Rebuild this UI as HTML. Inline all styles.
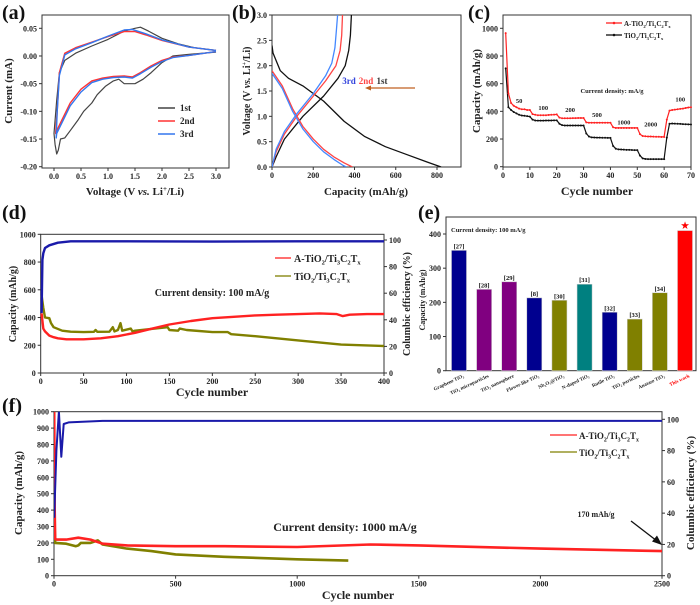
<!DOCTYPE html>
<html><head><meta charset="utf-8"><style>
html,body{margin:0;padding:0;background:#fff;}
svg{display:block;font-family:"Liberation Serif",serif;font-weight:bold;}
</style></head><body>
<svg id="fig" width="700" height="605" viewBox="0 0 700 605" xmlns="http://www.w3.org/2000/svg"></svg>
<script>
// ---- Panel a: CV curves [V, I]
const cvCycle1 = [[3.0,0.007],[2.5,0.003],[2.2,0.0],[2.0,-0.012],[1.8,-0.03],[1.65,-0.042],[1.5,-0.05],[1.3,-0.05],[1.2,-0.042],[1.1,-0.045],[0.95,-0.055],[0.8,-0.07],[0.7,-0.085],[0.55,-0.1],[0.45,-0.115],[0.3,-0.135],[0.2,-0.148],[0.12,-0.15],[0.08,-0.17],[0.05,-0.177],[0.02,-0.16],[0.0,-0.14],[0.05,-0.08],[0.1,-0.03],[0.2,-0.008],[0.4,0.005],[0.7,0.018],[1.0,0.03],[1.3,0.045],[1.5,0.05],[1.6,0.052],[1.75,0.045],[2.0,0.032],[2.3,0.022],[2.6,0.015],[3.0,0.01]];
const cvCycle2 = [[3.0,0.008],[2.5,0.001],[2.2,-0.002],[2.0,-0.008],[1.8,-0.018],[1.6,-0.03],[1.45,-0.038],[1.3,-0.036],[1.1,-0.037],[0.9,-0.04],[0.7,-0.045],[0.5,-0.06],[0.3,-0.085],[0.15,-0.115],[0.05,-0.135],[0.03,-0.14],[0.06,-0.1],[0.1,-0.03],[0.2,0.005],[0.4,0.015],[0.7,0.025],[1.0,0.035],[1.3,0.044],[1.5,0.044],[1.7,0.038],[2.0,0.028],[2.5,0.016],[3.0,0.01]];
const cvCycle3 = [[3.0,0.008],[2.5,0.001],[2.2,-0.003],[2.0,-0.01],[1.8,-0.02],[1.6,-0.032],[1.45,-0.04],[1.3,-0.038],[1.1,-0.039],[0.9,-0.042],[0.7,-0.048],[0.5,-0.065],[0.3,-0.09],[0.15,-0.12],[0.05,-0.14],[0.04,-0.148],[0.06,-0.1],[0.1,-0.035],[0.2,0.002],[0.4,0.013],[0.7,0.024],[1.0,0.036],[1.3,0.047],[1.45,0.048],[1.7,0.04],[2.0,0.029],[2.5,0.016],[3.0,0.01]];
// ---- Panel b: [capacity, voltage]
const disch1 = [[0,2.4],[5,2.25],[40,1.9],[80,1.75],[150,1.6],[250,1.3],[350,0.9],[450,0.6],[550,0.4],[650,0.25],[750,0.1],[820,0]];
const disch2 = [[0,1.9],[50,1.6],[100,1.15],[150,0.8],[200,0.55],[250,0.35],[300,0.2],[350,0.08],[390,0]];
const disch3 = [[0,1.85],[50,1.55],[100,1.1],[150,0.75],[200,0.5],[250,0.3],[300,0.15],[345,0.03],[360,0]];
const charge1 = [[0,0],[20,0.2],[60,0.55],[150,1.0],[250,1.4],[320,1.75],[355,2.0],[372,2.3],[380,2.6],[385,3.0]];
const charge2 = [[0,0],[20,0.3],[60,0.65],[120,1.0],[200,1.4],[260,1.7],[310,2.0],[330,2.3],[338,2.6],[342,3.0]];
const charge3 = [[0,0],[20,0.35],[60,0.7],[120,1.05],[200,1.45],[260,1.8],[290,2.05],[305,2.35],[312,2.7],[318,3.0]];
// ---- Panel c: rate
const rateCycles = [1,2,3,4,5,6,7,8,9,10,11,12,13,14,15,16,17,18,19,20,21,22,23,24,25,26,27,28,29,30,31,32,33,34,35,36,37,38,39,40,41,42,43,44,45,46,47,48,49,50,51,52,53,54,55,56,57,58,59,60,61,62,63,64,65,66,67,68,69,70];
const rateA = [965,530,460,440,430,420,415,415,410,410,380,375,372,372,372,372,374,375,376,378,355,350,350,350,350,351,351,352,352,352,320,318,318,318,318,318,318,318,318,318,285,280,280,280,280,280,280,280,280,280,235,222,220,218,218,217,216,216,215,215,340,405,410,412,415,418,420,424,428,430];
const rateB = [710,430,410,395,385,375,370,368,365,362,340,334,333,333,333,334,334,334,335,335,310,300,298,298,298,298,298,298,298,298,240,218,212,211,210,210,209,209,208,208,150,130,125,124,123,122,122,121,120,120,80,60,56,55,55,55,55,55,55,55,210,310,312,311,310,309,308,307,306,305];
const rateLabels = ["50","100","200","500","1000","2000","100"];
const rateLabelCycle = [6,15,25,35,45,55,66];
const rateLabelVal = [460,410,395,360,305,290,470];
// ---- Panel d: long cycling 100 mA/g
const dCyc = [1,3,5,10,15,20,30,50,70,90,110,130,150,175,200,225,250,275,300,325,345,352,360,380,400];
const dCapA = [430,320,300,270,258,250,243,243,250,265,290,320,350,375,395,405,415,420,425,430,425,410,420,425,425];
const dCycB = [1,3,5,10,12,15,25,35,50,62,64,66,80,84,86,90,93,95,105,107,110,148,150,160,162,170,200,218,222,250,300,350,400];
const dCapB = [560,470,400,395,360,330,305,298,295,297,310,297,298,330,300,310,360,305,320,300,305,330,310,305,320,310,295,295,280,265,235,205,195];
const dCycCE = [1,2,3,5,10,20,35,100,200,300,400];
const dCE = [45,85,90,94,96,98,99,99,98.8,99,99];
// ---- Panel e: comparison bars
const eNames = ["Graphene TiO₂","TiO₂ microparticles","TiO₂ nanosphere","Flower-like TiO₂","Nb₂O₅@TiO₂","N-doped TiO₂","Rutile TiO₂","TiO₂ particles","Anatase TiO₂","This work"];
const eRefs = ["[27]","[28]","[29]","[8]","[30]","[31]","[32]","[33]","[34]","★"];
const eVals = [352,238,260,213,206,253,171,151,228,410];
const eColors = ["#00008f","#800080","#800080","#00008f","#808000","#008080","#00008f","#808000","#808000","#ff0000"];
// ---- Panel f: long cycling 1000 mA/g
const fCycA = [1,3,5,10,50,100,150,200,300,500,700,1000,1300,1500,2000,2500];
const fCapA = [1000,400,225,220,220,232,220,195,185,180,180,175,190,185,165,150];
const fCycB = [1,5,50,90,100,110,150,180,200,300,400,500,700,1000,1210];
const fCapB = [360,200,195,180,185,200,200,215,190,165,150,130,115,100,92];
const fCycCE = [1,10,20,30,40,60,200,1000,2000,2500];
const fCE = [37,80,105,76,97,98,99,99,99,99];

const NS="http://www.w3.org/2000/svg";
const svg=document.getElementById('fig');
function el(tag,attrs,parent,text){const e=document.createElementNS(NS,tag);for(const k in attrs)e.setAttribute(k,attrs[k]);if(text!==undefined)e.textContent=text;(parent||svg).appendChild(e);return e;}
function lin(d0,d1,r0,r1){return v=>r0+(v-d0)*(r1-r0)/(d1-d0);}
function frame(x0,y0,x1,y1,name){const r=el('rect',{x:x0,y:y0,width:x1-x0,height:y1-y0,fill:'none',stroke:'#333','stroke-width':1});}
function xTicks(sx,vals,y,fmt,name){vals.forEach(v=>{const x=sx(v);el('line',{x1:x,y1:y,x2:x,y2:y+3,stroke:'#333'});const t=el('text',{x:x,y:y+11,'font-size':8,'text-anchor':'middle',fill:'#222'},svg,fmt(v));});}
function yTicks(sy,vals,x,fmt,name,right){vals.forEach(v=>{const y=sy(v);el('line',{x1:x,y1:y,x2:right?x+3:x-3,y2:y,stroke:'#333'});const t=el('text',{x:right?x+5:x-5,y:y+3,'font-size':8,'text-anchor':right?'start':'end',fill:'#222'},svg,fmt(v));});}
function path(pts,sx,sy,color,w,name){const d=pts.map((p,i)=>(i?'L':'M')+sx(p[0]).toFixed(1)+' '+sy(p[1]).toFixed(1)).join(' ');const p=el('path',{d:d,fill:'none',stroke:color,'stroke-width':w,'stroke-linejoin':'round'});return p;}
function zip(a,b){return a.map((v,i)=>[v,b[i]]);}
function label(x,y,txt,size,name,opts){const t=el('text',Object.assign({x:x,y:y,'font-size':size,'text-anchor':'middle',fill:'#222'},opts||{}),svg,txt);return t;}
function vlabel(x,y,txt,size,name){const t=label(0,0,txt,size,name,{transform:`translate(${x},${y}) rotate(-90)`});return t;}
function chem(x,y,prefix,size,color,name){
  const t=el('text',{x:x,y:y,'font-size':size,fill:color||'#222'},svg);
  const parts=[[prefix+'TiO',0],['2',1],['/Ti',0],['3',1],['C',0],['2',1],['T',0],['x',1]];
  parts.forEach(p=>{el('tspan',p[1]?{'font-size':size*0.65,dy:size*0.25}:{dy:0},t,p[0]);if(p[1]){el('tspan',{'font-size':1,dy:-size*0.25},t,'\u200b');}});
  return t;}
function clip(id,x0,y0,x1,y1){const c=el('clipPath',{id:id});el('rect',{x:x0,y:y0,width:x1-x0,height:y1-y0},c);return 'url(#'+id+')';}

// panel letters
[['(a)',2,19],['(b)',232,19],['(c)',468,19],['(d)',2,219],['(e)',418,219],['(f)',2,412]].forEach(l=>{const t=el('text',{x:l[1],y:l[2],'font-size':20,fill:'#111'},svg,l[0]);});

// ===== Panel a
{const sx=lin(0,3,54,216), sy=lin(0.05,-0.2,28.3,166.7);
frame(42,15,229,168,'panel-a-frame');
xTicks(sx,[0,0.5,1,1.5,2,2.5,3],168,v=>v.toFixed(1),'a-x-tick');
yTicks(sy,[0.05,0,-0.05,-0.1,-0.15,-0.2],42,v=>v.toFixed(2),'a-y-tick');
path(cvCycle1,sx,sy,'#444',1.2,'cv-1st');
path(cvCycle2,sx,sy,'#ff3333',1.4,'cv-2nd');
path(cvCycle3,sx,sy,'#3377ee',1.4,'cv-3rd');
[['1st','#444',108],['2nd','#ff3333',121],['3rd','#3377ee',134]].forEach(l=>{const ln=el('line',{x1:158,y1:l[2],x2:175,y2:l[2],stroke:l[1],'stroke-width':1.5});label(180,l[2]+3,l[0],9,'a-legend-'+l[0],{'text-anchor':'start'});});
vlabel(12,91,'Current (mA)',11,'a-y-axis-title');
const t=label(135,195,'',11,'a-x-axis-title');t.innerHTML='Voltage (V <tspan font-style="italic">vs.</tspan> Li<tspan font-size="7" dy="-4">+</tspan><tspan dy="4">/Li)</tspan>';}

// ===== Panel b
{const sx=lin(0,800,272,437), sy=lin(0,3,167,15);
const cp=clip('cb',272,15,461,167);
frame(272,15,461,167,'panel-b-frame');
xTicks(sx,[0,200,400,600,800],167,v=>v,'b-x-tick');
yTicks(sy,[0,0.5,1,1.5,2,2.5,3],272,v=>v.toFixed(1),'b-y-tick');
[[disch1,'#111','discharge-1st'],[charge1,'#111','charge-1st'],[disch2,'#ff4444','discharge-2nd'],[charge2,'#ff4444','charge-2nd'],[disch3,'#4488ff','discharge-3rd'],[charge3,'#4488ff','charge-3rd']].forEach(s=>{path(s[0],sx,sy,s[1],1.3,s[2]).setAttribute('clip-path',cp);});
label(349,84,'3rd',9,'b-label-3rd',{fill:'#3344dd'});label(366,84,'2nd',9,'b-label-2nd',{fill:'#ff4444'});label(382,84,'1st',9,'b-label-1st',{fill:'#333'});
const ar=el('line',{x1:415,y1:88,x2:368,y2:88,stroke:'#c06020','stroke-width':1.3});
el('path',{d:'M365 88 L371 85.5 L371 90.5 Z',fill:'#c06020'});
const t=vlabel(250,91,'',10,'b-y-axis-title');t.innerHTML='Voltage (V <tspan font-style="italic">vs.</tspan> Li<tspan font-size="6" dy="-4">+</tspan><tspan dy="4">/Li)</tspan>';
label(366,195,'Capacity (mAh/g)',11,'b-x-axis-title');}

// ===== Panel c
{const sx=lin(0,70,503,691), sy=lin(0,1000,166.7,28.3);
frame(503,15,691,167,'panel-c-frame');
xTicks(sx,[0,10,20,30,40,50,60,70],167,v=>v,'c-x-tick');
yTicks(sy,[0,200,400,600,800,1000],503,v=>v,'c-y-tick');
path(zip(rateCycles,rateB),sx,sy,'#111',1.2,'rate-tio2');
path(zip(rateCycles,rateA),sx,sy,'#ff2222',1.2,'rate-a-tio2');
rateCycles.forEach((c,i)=>{el('circle',{cx:sx(c),cy:sy(rateB[i]),r:1,fill:'#111'});el('circle',{cx:sx(c),cy:sy(rateA[i]),r:1,fill:'#ff2222'});});
rateLabels.forEach((l,i)=>label(sx(rateLabelCycle[i]),sy(rateLabelVal[i]),l,6.5,'rate-label'));
label(612,93,'Current density: mA/g',6.5,'c-current-density');
el('line',{x1:606,y1:23,x2:622,y2:23,stroke:'#ff2222','stroke-width':1.3});el('circle',{cx:614,cy:23,r:1.3,fill:'#ff2222'});
chem(624,26,'A-',7,'#222','c-legend-a');
el('line',{x1:606,y1:35,x2:622,y2:35,stroke:'#111','stroke-width':1.3});el('circle',{cx:614,cy:35,r:1.3,fill:'#111'});
chem(624,38,'',7,'#222','c-legend-b');
vlabel(480,91,'Capacity (mAh/g)',11,'c-y-axis-title');
label(597,195,'Cycle number',12,'c-x-axis-title');}

// ===== Panel d
{const sx=lin(0,400,40.7,384), sy=lin(0,1000,373,234.3), sr=lin(0,100,373,240);
frame(40.7,234.3,384,373,'panel-d-frame');
xTicks(sx,[0,50,100,150,200,250,300,350,400],373,v=>v,'d-x-tick');
yTicks(sy,[0,200,400,600,800,1000],40.7,v=>v,'d-y-tick');
yTicks(sr,[0,20,40,60,80,100],384,v=>v,'d-right-tick',true);
path(zip(dCycB,dCapB),sx,sy,'#808000',2.4,'d-tio2-capacity');
path(zip(dCyc,dCapA),sx,sy,'#ff2222',2.4,'d-a-tio2-capacity');
path(zip(dCycCE,dCE),sx,sr,'#1a1aaa',2.4,'d-coulombic-efficiency');
el('line',{x1:275,y1:258,x2:291,y2:258,stroke:'#ff2222','stroke-width':1.3});
chem(294,262,'A-',10,'#222','d-legend-a');
el('line',{x1:275,y1:276,x2:291,y2:276,stroke:'#808000','stroke-width':1.3});
chem(294,280,'',10,'#222','d-legend-b');
label(212,296,'Current density: 100 mA/g',10,'d-current-density');
vlabel(16,304,'Capacity (mAh/g)',10,'d-y-axis-title');
label(0,0,'Columbic efficiency (%)',10,'d-right-axis-title',{transform:'translate(410,304) rotate(-90)'});
label(212,396,'Cycle number',12,'d-x-axis-title');}

// ===== Panel e
{const sy=lin(0,400,370.7,234), x0=446, x1=696, bw=15, step=(685-459)/9;
frame(x0,217,x1,370.7,'panel-e-frame');
yTicks(sy,[0,100,200,300,400],x0,v=>v,'e-y-tick');
eVals.forEach((v,i)=>{const cx=459+i*step;
 const r=el('rect',{x:cx-bw/2,y:sy(v),width:bw,height:sy(0)-sy(v),fill:eColors[i],stroke:'#ccc','stroke-width':0.5});
 
 label(cx,sy(v)-2,eRefs[i],i==9?9:6.5,'bar-ref-'+i,{fill:i==9?'#ff0000':'#111'});
 label(0,0,eNames[i],5,'bar-name-'+i,{'text-anchor':'end',fill:i==9?'#ff0000':'#222',transform:`translate(${cx+5},${377}) rotate(-25)`});
});
label(451,232,'Current density: 100 mA/g',6.5,'e-current-density',{'text-anchor':'start'});
vlabel(425,300,'Capacity (mAh/g)',8,'e-y-axis-title');}

// ===== Panel f
{const sx=lin(0,2500,54,662), sy=lin(0,1000,575.7,411.7), sr=lin(0,100,575.7,419.3);
const cp=clip('cf',54,411.7,662,575.7);
frame(54,411.7,662,575.7,'panel-f-frame');
xTicks(sx,[0,500,1000,1500,2000,2500],575.7,v=>v,'f-x-tick');
yTicks(sy,[0,100,200,300,400,500,600,700,800,900,1000],54,v=>v,'f-y-tick');
yTicks(sr,[0,20,40,60,80,100],662,v=>v,'f-right-tick',true);
path(zip(fCycB,fCapB),sx,sy,'#808000',2.6,'f-tio2-capacity').setAttribute('clip-path',cp);
path(zip(fCycA,fCapA),sx,sy,'#ff2222',2.6,'f-a-tio2-capacity').setAttribute('clip-path',cp);
path(zip(fCycCE,fCE),sx,sr,'#1a1aaa',2,'f-coulombic-efficiency').setAttribute('clip-path',cp);
el('line',{x1:550,y1:435,x2:577,y2:435,stroke:'#ff2222','stroke-width':1.3});
chem(579,439,'A-',9,'#222','f-legend-a');
el('line',{x1:550,y1:452,x2:577,y2:452,stroke:'#808000','stroke-width':1.3});
chem(579,456,'',9,'#222','f-legend-b');
label(345,531,'Current density: 1000 mA/g',12,'f-current-density');
label(596,517,'170 mAh/g',8,'f-170-annotation');
const ar=el('line',{x1:631,y1:521,x2:657,y2:541,stroke:'#111','stroke-width':1.3});
el('path',{d:'M662 545 L652 541.5 L657 535.5 Z',fill:'#111'});
vlabel(22,493,'Capacity (mAh/g)',11,'f-y-axis-title');
label(0,0,'Columbic efficiency (%)',11,'f-right-axis-title',{transform:'translate(694,493) rotate(-90)'});
label(358,599,'Cycle number',12,'f-x-axis-title');}
</script>
</body></html>
